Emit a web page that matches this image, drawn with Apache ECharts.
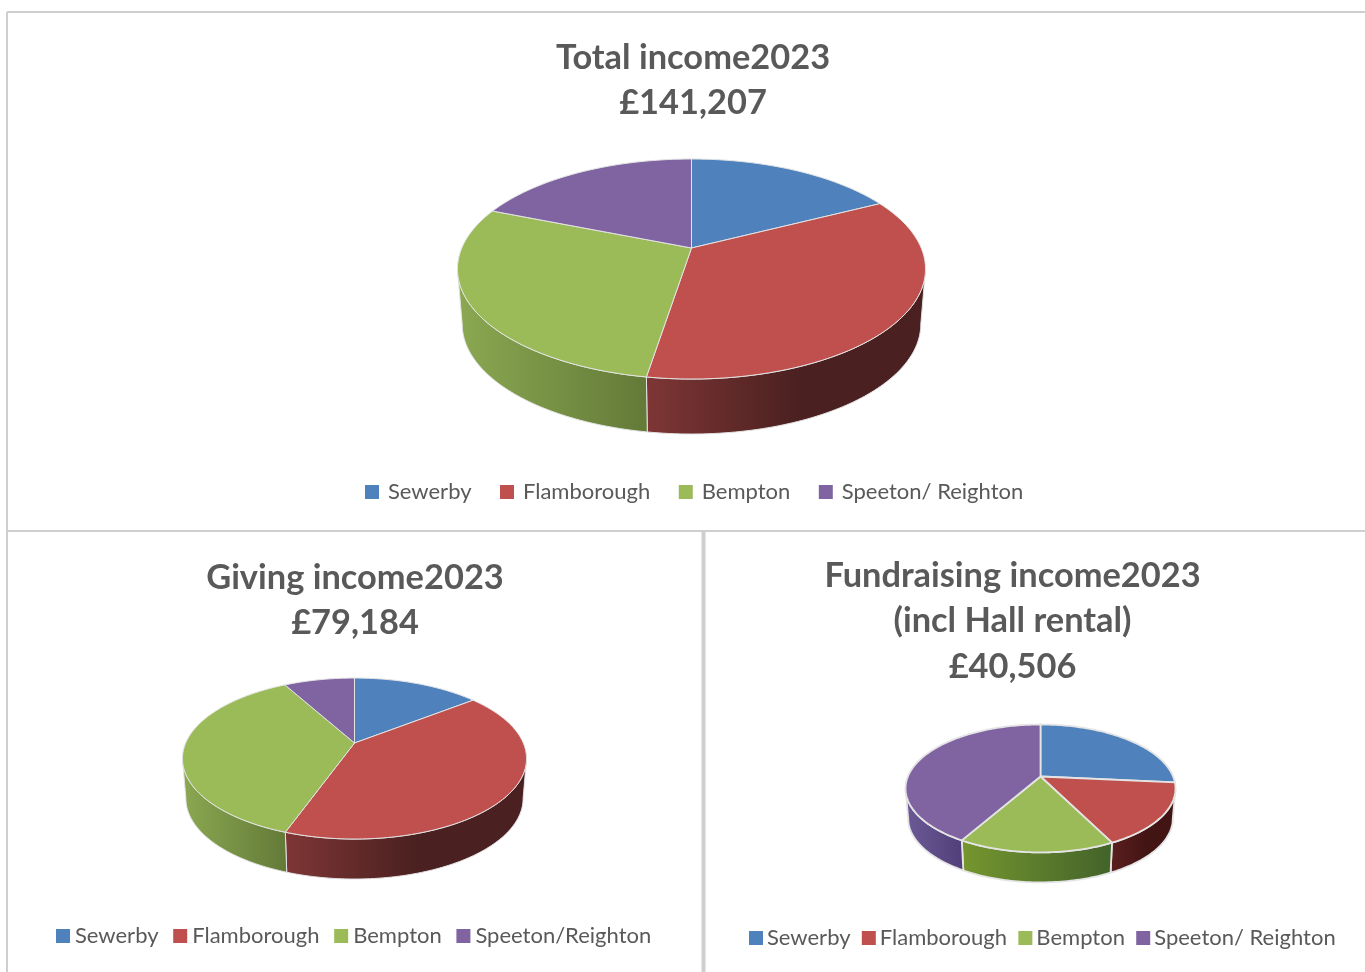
<!DOCTYPE html>
<html lang="en">
<head>
    <title>Income 2023</title>
    <meta charset="utf-8">
    <style>
        html, body { margin: 0; padding: 0; background: #fff; }
        #main { width: 1365px; height: 972px; }
    </style>
</head>
<body>
    <div id="main"></div>
    <script src="https://cdn.jsdelivr.net/npm/echarts@6/dist/echarts.min.js"></script>
    <script type="text/javascript">
        // values (they add up to the title totals)
        var categories = ["Sewerby", "Flamborough", "Bempton", "Speeton/ Reighton"];
        var givingCategories = ["Sewerby", "Flamborough", "Bempton", "Speeton/Reighton"];
        var totalValues = [24700, 49500, 40300, 26707];
        var givingValues = [11400, 32500, 28950, 6334];
        var fundraisingValues = [10730, 6520, 6360, 16896];
        var totalTitle = "Total income2023\n£141,207";
        var givingTitle = "Giving income2023\n£79,184";
        var fundraisingTitle = "Fundraising income2023\n(incl Hall rental)\n£40,506";

        var colors = ["#4F81BD", "#C0504D", "#9BBB59", "#8064A2"];
        var wallColors = [
            ["#3F6795", "#27405E"],
            ["#7E3635", "#4A2020"],
            ["#8BA851", "#637A38"],
            ["#6D5689", "#4E3D66"]
        ];
        // the small pie is a rougher picture, its walls are more saturated
        var smallWallColors = [
            ["#3F6795", "#27405E"],
            ["#5C1F1F", "#431414"],
            ["#76962F", "#42632A"],
            ["#6C5A96", "#4F3F78"]
        ];
        var textColor = "#595959";
        var fontName = "Lato";

        // pie geometry: apex, radius, squash, perspective, wall height
        var totalPie = { cx: 691.5, cy: 248, R: 229.7, S: 106, k: 0.191, depth: 55, line: 1, walls: wallColors };
        var givingPie = { cx: 354.5, cy: 743, R: 168.8, S: 77.5, k: 0.193, depth: 40, line: 1, walls: wallColors };
        var fundraisingPie = { cx: 1040.5, cy: 776.5, R: 132.6, S: 61.7, k: 0.187, depth: 30, line: 1.8, walls: smallWallColors };

        //point on the rim, angle is clockwise from the top
        function rimPoint(pie, angle, bottom) {
            var u = Math.sin(angle), v = Math.cos(angle), w = 1 + pie.k * v;
            var x = pie.R * u / w, y = pie.S * v / w;
            if (bottom) {
                return [pie.cx + x * 0.98, pie.cy - y + pie.depth];
            }
            return [pie.cx + x, pie.cy - y];
        }

        function rimArc(pie, from, to, bottom) {
            var pts = [], steps = Math.max(2, Math.ceil(Math.abs(to - from) / 0.02));
            for (var i = 0; i <= steps; i++) {
                pts.push(rimPoint(pie, from + (to - from) * i / steps, bottom));
            }
            return pts;
        }

        //one series per slice so the legend picks it up by name
        function pieSeries(pie, values, names) {
            var sum = values.reduce(function (a, b) { return a + b; }, 0);
            var used = 0;
            return values.map(function (value, idx) {
                var start = used / sum * Math.PI * 2;
                used += value;
                var end = used / sum * Math.PI * 2;
                return {
                    type: "custom",
                    name: names[idx],
                    coordinateSystem: "none",
                    silent: true,
                    animation: false,
                    itemStyle: { color: colors[idx] },
                    data: [[value]],
                    renderItem: function () {
                        var children = [];
                        var stroke = { stroke: "#E4E4E4", lineWidth: pie.line, lineJoin: "round" };
                        // wall only shows on the front of the rim
                        var edge = Math.acos(-pie.k);
                        var a = Math.max(start, edge), b = Math.min(end, Math.PI * 2 - edge);
                        if (b > a) {
                            var wall = rimArc(pie, a, b, false).concat(rimArc(pie, b, a, true));
                            children.push({
                                type: "polygon",
                                shape: { points: wall },
                                style: Object.assign({
                                    fill: new echarts.graphic.LinearGradient(0, 0, 1, 0, [
                                        { offset: 0, color: pie.walls[idx][0] },
                                        { offset: idx === 1 ? 0.55 : 1, color: pie.walls[idx][1] },
                                        { offset: 1, color: pie.walls[idx][1] }
                                    ])
                                }, stroke)
                            });
                        }
                        var top = [[pie.cx, pie.cy]].concat(rimArc(pie, start, end, false));
                        children.push({
                            type: "polygon",
                            shape: { points: top },
                            style: Object.assign({ fill: colors[idx] }, stroke)
                        });
                        return { type: "group", children: children };
                    }
                };
            });
        }

        function titleItem(text, center, top) {
            return {
                text: text,
                left: center,
                top: top,
                textAlign: "center",
                padding: 0,
                textStyle: {
                    fontFamily: fontName,
                    fontSize: 34.4,
                    fontWeight: "bold",
                    color: textColor,
                    lineHeight: 45.5
                }
            };
        }

        function legendItem(names, left, top, gap, labelGap) {
            return {
                data: names,
                left: left,
                top: top,
                padding: 0,
                orient: "horizontal",
                icon: "rect",
                itemWidth: 14,
                itemHeight: 14,
                itemGap: gap,
                selectedMode: false,
                textStyle: {
                    fontFamily: fontName,
                    fontSize: 22,
                    color: textColor,
                    padding: [0, 0, 0, labelGap]
                }
            };
        }

        function panelLine(x1, y1, x2, y2, width) {
            return {
                type: "line",
                silent: true,
                shape: { x1: x1, y1: y1, x2: x2, y2: y2 },
                style: { stroke: "#CFCFCF", lineWidth: width }
            };
        }

        var option = {
            backgroundColor: "#fff",
            animation: false,
            title: [
                titleItem(totalTitle, 693, 35),
                titleItem(givingTitle, 355, 555),
                titleItem(fundraisingTitle, 1012.5, 553)
            ],
            legend: [
                legendItem(categories, 365, 481, 28.5, 4),
                legendItem(givingCategories, 56, 925, 14.7, 0),
                legendItem(categories, 749, 927, 11.3, -1)
            ],
            graphic: [
                panelLine(7, 12, 1365, 12, 2),
                panelLine(7, 12, 7, 972, 2),
                panelLine(7, 531, 1365, 531, 2),
                panelLine(703.5, 531, 703.5, 972, 4)
            ],
            series: pieSeries(totalPie, totalValues, categories)
                .concat(pieSeries(givingPie, givingValues, givingCategories))
                .concat(pieSeries(fundraisingPie, fundraisingValues, categories))
        };

        var chart = echarts.init(document.getElementById("main"));
        chart.setOption(option);
    </script>
</body>
</html>
